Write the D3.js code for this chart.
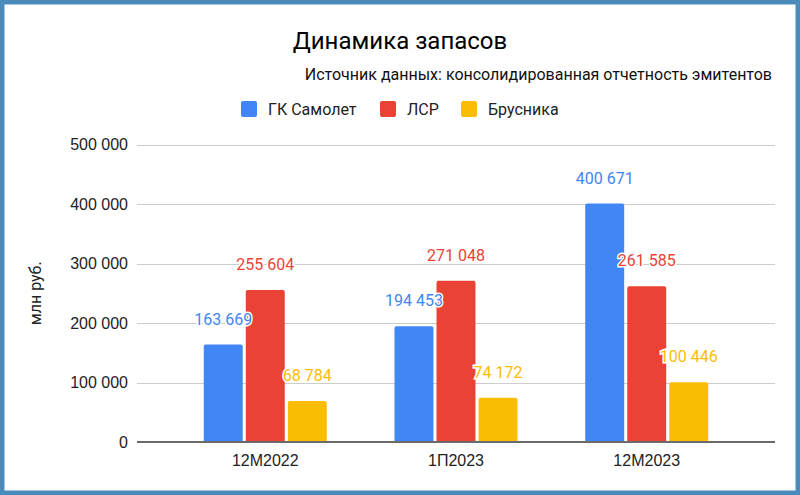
<!DOCTYPE html>
<html>
<head>
  <meta charset="utf-8">
  <title>Динамика запасов</title>
  <style>
    html, body { margin: 0; padding: 0; background: #fff; }
    svg { display: block; font-family: Roboto, "Noto Sans", sans-serif; }
    .tick text { font-size: 16px; fill: #222; }
  </style>
</head>
<body>
  <svg id="chart" width="800" height="495"></svg>
  <script src="https://d3js.org/d3.v7.min.js"></script>
  <script>
    const periods = ["12M2022", "1П2023", "12M2023"];
    const seriesNames = ["ГК Самолет", "ЛСР", "Брусника"];
    const samolet = [163669, 194453, 400671];
    const lsr = [255604, 271048, 261585];
    const brusnika = [68784, 74172, 100446];
    const yTicks = [0, 100000, 200000, 300000, 400000, 500000];
    const colors = ["#4285f4", "#ea4335", "#fbbc04"];

    const seriesValues = [samolet, lsr, brusnika];
    const rows = periods.map((p, i) => ({
      period: p,
      values: seriesNames.map((s, j) => ({ series: s, idx: j, value: seriesValues[j][i] }))
    }));

    const W = 800, H = 495;
    const plot = { left: 137, right: 775, top: 144.5, bottom: 442 };

    const svg = d3.select("#chart");

    // frame
    svg.append("rect")
      .attr("x", 2.25).attr("y", 2.25)
      .attr("width", W - 4.5).attr("height", H - 4.5)
      .attr("fill", "#fff")
      .attr("stroke", "#4b8bbb")
      .attr("stroke-width", 4.5);

    const fmt = v => d3.format(",")(v).replace(/,/g, " ");

    const y = d3.scaleLinear().domain([0, 500000]).range([plot.bottom, plot.top]);
    const x0 = d3.scaleBand().domain(periods)
      .range([plot.left, plot.right])
      .paddingInner(0.355).paddingOuter(0.35);
    const x1 = d3.scaleBand().domain(seriesNames)
      .range([0, x0.bandwidth()])
      .paddingInner(0.073);

    // grid
    svg.append("g")
      .selectAll("line")
      .data(yTicks.filter(t => t > 0))
      .join("line")
      .attr("x1", plot.left).attr("x2", plot.right)
      .attr("y1", d => Math.round(y(d)) + 0.5).attr("y2", d => Math.round(y(d)) + 0.5)
      .attr("stroke", "#cccccc");

    // y axis labels
    const yAxis = svg.append("g")
      .attr("transform", "translate(" + plot.left + ",0)")
      .call(d3.axisLeft(y).tickValues(yTicks).tickFormat(fmt).tickSize(0).tickPadding(9));
    yAxis.select(".domain").remove();

    // bars
    const groups = svg.append("g")
      .selectAll("g")
      .data(rows)
      .join("g")
      .attr("transform", d => "translate(" + x0(d.period) + ",0)");

    groups.selectAll("path")
      .data(d => d.values)
      .join("path")
      .attr("fill", d => colors[d.idx])
      .attr("d", d => {
        const bx = x1(d.series), bw = x1.bandwidth();
        const top = y(d.value), bot = y(0), r = 2;
        return "M" + bx + "," + bot +
          "V" + (top + r) +
          "Q" + bx + "," + top + " " + (bx + r) + "," + top +
          "H" + (bx + bw - r) +
          "Q" + (bx + bw) + "," + top + " " + (bx + bw) + "," + (top + r) +
          "V" + bot + "Z";
      });

    // baseline
    svg.append("line")
      .attr("x1", plot.left).attr("x2", plot.right)
      .attr("y1", plot.bottom).attr("y2", plot.bottom)
      .attr("stroke", "#6b6b6b").attr("stroke-width", 2);

    // data labels
    groups.selectAll("text.lbl")
      .data(d => d.values)
      .join("text")
      .attr("class", "lbl")
      .attr("x", d => x1(d.series) + x1.bandwidth() / 2)
      .attr("y", d => y(d.value) - 25.5)
      .attr("dy", "0.35em")
      .attr("text-anchor", "middle")
      .attr("font-size", 16)
      .attr("fill", d => colors[d.idx])
      .attr("stroke", "#fff")
      .attr("stroke-width", 3)
      .attr("paint-order", "stroke")
      .text(d => fmt(d.value));

    // x axis labels
    const xAxis = svg.append("g")
      .attr("transform", "translate(0," + plot.bottom + ")")
      .call(d3.axisBottom(x0).tickSize(0).tickPadding(13));
    xAxis.select(".domain").remove();

    // y axis title
    svg.append("text")
      .attr("transform", "translate(41," + ((plot.top + plot.bottom) / 2) + ")rotate(-90)")
      .attr("text-anchor", "middle")
      .attr("font-size", 16)
      .attr("fill", "#222")
      .text("млн руб.");

    // title
    svg.append("text")
      .attr("x", 400).attr("y", 48.5)
      .attr("text-anchor", "middle")
      .attr("font-size", 24)
      .attr("fill", "#000")
      .text("Динамика запасов");

    svg.append("text")
      .attr("x", 772).attr("y", 79.5)
      .attr("text-anchor", "end")
      .attr("font-size", 16)
      .attr("fill", "#111")
      .text("Источник данных: консолидированная отчетность эмитентов");

    // legend
    const legendX = [241, 380, 461];
    const legend = svg.append("g")
      .selectAll("g")
      .data(seriesNames)
      .join("g")
      .attr("transform", (d, i) => "translate(" + legendX[i] + ",101)");
    legend.append("rect")
      .attr("width", 16).attr("height", 16).attr("rx", 2)
      .attr("fill", (d, i) => colors[i]);
    legend.append("text")
      .attr("x", 27).attr("y", 13.5)
      .attr("font-size", 16)
      .attr("fill", "#222")
      .text(d => d);
  </script>
</body>
</html>
